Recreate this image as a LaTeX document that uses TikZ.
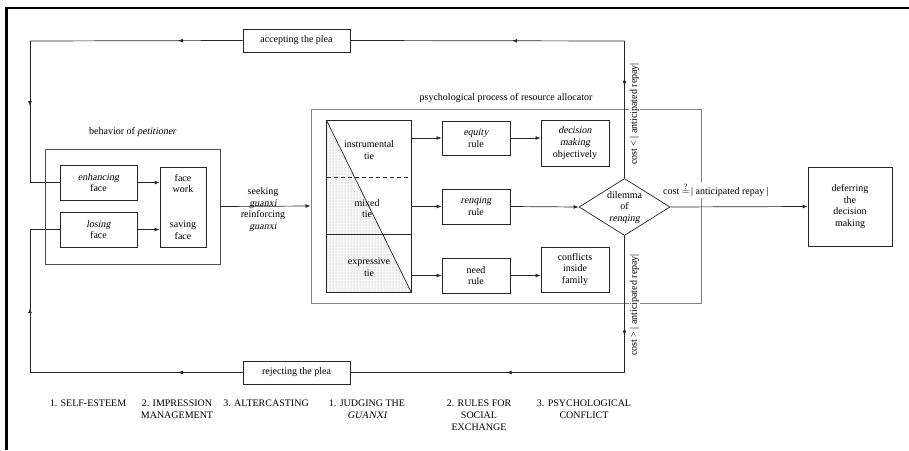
\documentclass[tikz,border=0pt]{standalone}
\usepackage{fontspec}
\setmainfont{Liberation Serif}[ItalicFont={Liberation Serif},ItalicFeatures={FakeSlant=0.2}]
\usetikzlibrary{arrows.meta,decorations.markings,shapes.geometric,patterns,calc}
\begin{document}
\begin{tikzpicture}[x=1pt,y=-1pt,
  font=\fontsize{10}{11.7}\selectfont,
  box/.style={draw=black!85,line width=0.7pt,align=center,inner sep=0pt},
  lbl/.style={align=center,inner sep=0pt},
  conn/.style={draw=black!85,line width=0.7pt},
  arr/.style={conn,-{Latex[length=5pt,width=3.8pt]}},
  midarr/.style={conn,postaction={decorate},decoration={markings,mark=at position #1 with {\arrow{Latex[length=5pt,width=3.8pt]}}}}
]
\useasboundingbox (0,0) rectangle (909,450);
% frame
\coordinate (fBL) at (6.5,450);
\coordinate (fTL) at (6.5,8);
\coordinate (fTR) at (909,8);
\draw[line width=2.2pt] (fBL) -- (fTL) -- (fTR);

% plea boxes
\node[box,minimum width=107,minimum height=23] (acc) at (296.5,40.5) {accepting the plea};
\node[box,minimum width=107,minimum height=23] (rej) at (296.5,372.5) {rejecting the plea};

% petitioner
\node[box,draw=black!70,minimum width=175,minimum height=115] (pet) at (132.5,206.5) {};
\node[lbl] (petl) at (132.5,132) {behavior of \textit{petitioner}};
\node[box,minimum width=77,minimum height=35] (enh) at (98.5,182.5) {\textit{enhancing}\\face};
\node[box,minimum width=77,minimum height=35] (los) at (98.5,229.5) {\textit{losing}\\face};
\node[box,minimum width=46,minimum height=80] (fw) at (183,207) {};
\node[lbl] (fwt) at (183,183.5) {face\\work};
\node[lbl] (sft) at (183,230) {saving\\face};
\draw[arr] (enh.east) -- (enh.east -| fw.west);
\draw[arr] (los.east) -- (los.east -| fw.west);

% process box
\node[box,draw=black!50,line width=1pt,minimum width=390,minimum height=194] (proc) at (506,206) {};
\node[lbl] (procl) at (506,98) {psychological process of resource allocator};

\draw[arr] (pet.east) -- (proc.west);
\node[lbl] (seek) at (263,209.5) {seeking\\\textit{guanxi}\\reinforcing\\\textit{guanxi}};

% tie box
\node[minimum width=84,minimum height=171,inner sep=0pt] (tie) at (369,206.5) {};
\fill[gray!8] (tie.north west) -- (tie.south east) -- (tie.south west) -- cycle;
\fill[pattern=dots,pattern color=gray!55] (tie.north west) -- (tie.south east) -- (tie.south west) -- cycle;
\draw[conn] (tie.north west) rectangle (tie.south east);
\draw[conn,dash pattern=on 4pt off 3pt] ($(tie.north west)+(0,57)$) -- ($(tie.north east)+(0,57)$);
\draw[conn] ($(tie.north west)+(0,114)$) -- ($(tie.north east)+(0,114)$);
\draw[conn] (tie.north west) -- (tie.south east);
\node[lbl] (tinst) at (369,150) {instrumental\\tie};
\node[lbl] (tmix) at (367,208.5) {mixed\\tie};
\node[lbl] (texp) at (369,267) {expressive\\tie};

% rules
\node[box,minimum width=68,minimum height=34] (eq) at (476,138) {\textit{equity}\\rule};
\node[box,minimum width=68,minimum height=35] (ren) at (476,206.5) {\textit{renqing}\\rule};
\node[box,minimum width=68,minimum height=35] (need) at (476,275.5) {need\\rule};
\draw[arr] (eq.west -| tie.east) -- (eq.west);
\draw[arr] (ren.west -| tie.east) -- (ren.west);
\draw[arr] (need.west -| tie.east) -- (need.west);

\node[box,minimum width=68,minimum height=46] (dec) at (575,143) {\textit{decision}\\\textit{making}\\objectively};
\node[box,minimum width=68,minimum height=45] (conf) at (575,269.5) {conflicts\\inside\\family};
\draw[arr] (eq.east) -- (eq.east -| dec.west);
\draw[arr] (need.east) -- (need.east -| conf.west);

% dilemma
\node[diamond,draw=black!85,line width=0.7pt,minimum width=91,minimum height=57,inner sep=0pt] (dil) at (624.5,207) {};
\node[lbl] (dilt) at (624.5,207.5) {dilemma\\of\\\textit{renqing}};
\draw[arr] (ren.east) -- (dil.west);

% deferring
\node[box,minimum width=84,minimum height=79] (def) at (850,206.5) {deferring\\the\\decision\\making};
\draw[arr] (dil.east) -- (def.west);
\node[lbl,fill=white,inner sep=0.5pt] (eqlbl) at (716,190) {cost $\stackrel{\mbox{\fontsize{8}{8}\selectfont ?}}{=}$\,| anticipated repay |};

% loops
\coordinate (cTR) at (624.5,41);
\coordinate (cTL) at (30,41);
\coordinate (cEL) at (30,182.5);
\coordinate (cBR) at (624.5,372.5);
\coordinate (cBL) at (30,372.5);
\coordinate (cLL) at (30,229.5);
\draw[midarr=0.73] (dil.north) -- (cTR);
\draw[midarr=0.41] (cTR) -- (acc.east);
\draw[midarr=0.305] (acc.west) -- (cTL);
\draw[midarr=0.46] (cTL) -- (cEL);
\draw[conn] (cEL) -- (enh.west);
\draw[midarr=0.73] (dil.south) -- (cBR);
\draw[midarr=0.43] (cBR) -- (rej.east);
\draw[midarr=0.305] (rej.west) -- (cBL);
\draw[midarr=0.45] (cBL) -- (cLL);
\draw[conn] (cLL) -- (los.west);

\node[lbl,fill=white,inner sep=1pt,rotate=90] (ltl) at (634.5,114) {cost < | anticipated repay|};
\node[lbl,fill=white,inner sep=1pt,rotate=90] (gtl) at (634.5,305) {cost > | anticipated repay|};

% bottom labels
\node[lbl,anchor=north] (b1) at (88,400) {1. SELF-ESTEEM};
\node[lbl,anchor=north] (b2) at (177,400) {2. IMPRESSION\\MANAGEMENT};
\node[lbl,anchor=north] (b3) at (266,400) {3. ALTERCASTING};
\node[lbl,anchor=north] (b4) at (367,400) {1. JUDGING THE\\\textit{GUANXI}};
\node[lbl,anchor=north] (b5) at (479,400) {2. RULES FOR\\SOCIAL\\EXCHANGE};
\node[lbl,anchor=north] (b6) at (584,400) {3. PSYCHOLOGICAL\\CONFLICT};
\end{tikzpicture}
\end{document}
